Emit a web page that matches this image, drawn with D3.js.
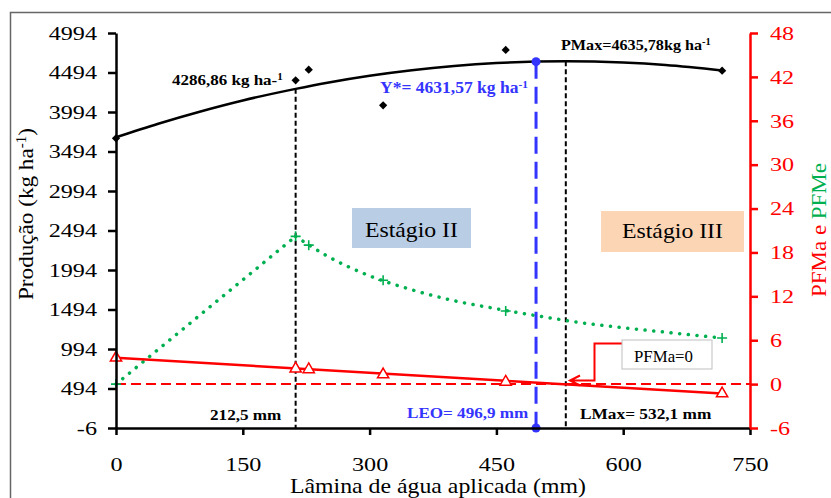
<!DOCTYPE html>
<html>
<head>
<meta charset="utf-8">
<script src="https://cdn.jsdelivr.net/npm/d3@7"></script>
<style>
  body { margin: 0; background: #fff; }
  svg text { font-family: "Liberation Serif", "Times New Roman", Times, serif; }
</style>
</head>
<body>
<div id="container"></div>
<script>
// observed points (lamina in mm)
let lamina = [0, 212.5, 228, 316, 461, 717];
let producao = [3661, 4395, 4530, 4079, 4779, 4517];
let pfmeMarks = [0, 20.2, 19.0, 14.2, 10.0, 6.3];
let pfmaMarks = [3.6, 2.1, 2.0, 1.3, 0.3, -1.3];

// fitted production curve
let curveLamina = [0, 50, 100, 150, 212.5, 250, 300, 350, 400, 450, 496.9, 532.1, 600, 650, 717];
let curveProducao = [3674, 3846, 4001, 4140, 4287, 4365, 4453, 4523, 4576, 4613, 4632, 4636, 4620, 4589, 4520];

// PFMe dotted line
let pfmeLamina = [0, 212.5, 250, 300, 350, 400, 450, 500, 550, 600, 650, 717];
let pfme = [0, 20.2, 17.5, 14.8, 12.9, 11.4, 10.3, 9.3, 8.4, 7.7, 7.1, 6.3];

// PFMa straight line
let pfmaLamina = [0, 717];
let pfma = [3.6, -1.3];

// reference levels: 212,5 mm / LEO / LMax
let refLamina = [212.5, 496.9, 532.1];
let refProducao = [4286.86, 4631.57, 4635.78];

let xTicks = [0, 150, 300, 450, 600, 750];
let yTicks = [-6, 494, 994, 1494, 1994, 2494, 2994, 3494, 3994, 4494, 4994];
let y2Ticks = [-6, 0, 6, 12, 18, 24, 30, 36, 42, 48];

let w = 831;
let h = 498;
let serif = "Liberation Serif, Times New Roman, serif";
let red = "#ff0000";
let green = "#00b050";
let blue = "#3434ff";

let viz = d3.select("#container")
  .append("svg")
    .attr("width", w)
    .attr("height", h)
    .style("display", "block")
;

// outer frame
viz.append("rect")
  .attr("x", 10.5).attr("y", 12.5)
  .attr("width", 840).attr("height", 500)
  .attr("fill", "none").attr("stroke", "#666").attr("stroke-width", 1.5);

let xScale = d3.scaleLinear().domain([0, 750]).range([116, 750]);
let yScale = d3.scaleLinear().domain([-6, 4994]).range([428, 33]);
let y2Scale = d3.scaleLinear().domain([-6, 48]).range([428, 33]);

// stretch a text horizontally so it spans x0..x1, baseline at y
function fitText(sel, x0, x1, y) {
  let bb = sel.node().getBBox();
  let k = (x1 - x0) / bb.width;
  sel.attr("transform", "translate(" + (x0 - bb.x * k) + "," + y + ") scale(" + k + ",1)");
}
// same thing for a text turned -90deg, running from yBottom up to yTop
function fitVertical(sel, yBottom, yTop, x) {
  let bb = sel.node().getBBox();
  let k = (yBottom - yTop) / bb.width;
  sel.attr("transform", "translate(" + x + "," + yBottom + ") rotate(-90) scale(" + k + ",1)");
}
function addText(txt, size, color, bold) {
  return viz.append("text")
    .attr("x", 0).attr("y", 0)
    .attr("font-family", serif)
    .attr("font-size", size)
    .attr("font-weight", bold ? "bold" : "normal")
    .attr("fill", color)
    .text(txt);
}
function sup(sel, txt) {
  sel.append("tspan").attr("font-size", "0.65em").attr("dy", "-0.5em").text(txt);
}

// stage boxes
viz.append("rect").attr("x", 352).attr("y", 208).attr("width", 119).attr("height", 40).attr("fill", "#b9cde5");
viz.append("rect").attr("x", 601).attr("y", 211).attr("width", 143).attr("height", 41).attr("fill", "#fcd5b5");
fitText(addText("Estágio II", 20, "#000"), 365, 458, 237);
fitText(addText("Estágio III", 20, "#000"), 622, 723, 238);

// vertical reference lines
viz.append("line")
  .attr("x1", xScale(refLamina[0])).attr("x2", xScale(refLamina[0]))
  .attr("y1", yScale(refProducao[0])).attr("y2", yScale(-6))
  .attr("stroke", "#000").attr("stroke-width", 2).attr("stroke-dasharray", "5,3");
viz.append("line")
  .attr("x1", xScale(refLamina[2])).attr("x2", xScale(refLamina[2]))
  .attr("y1", yScale(refProducao[2])).attr("y2", yScale(-6))
  .attr("stroke", "#000").attr("stroke-width", 2).attr("stroke-dasharray", "5,3");

// zero line of PFMa
viz.append("line")
  .attr("x1", xScale(0)).attr("x2", xScale(750))
  .attr("y1", y2Scale(0)).attr("y2", y2Scale(0))
  .attr("stroke", red).attr("stroke-width", 2).attr("stroke-dasharray", "10,5");

// PFMe dotted
let pfmeData = pfmeLamina.map(function(d, i){ return [d, pfme[i]]; });
let lineR = d3.line().x(function(d){ return xScale(d[0]); }).y(function(d){ return y2Scale(d[1]); });
viz.append("path")
  .attr("d", lineR(pfmeData.slice(0, 2)))
  .attr("fill", "none").attr("stroke", green).attr("stroke-width", 3.5)
  .attr("stroke-linecap", "round").attr("stroke-dasharray", "0.1,8.6");
viz.append("path")
  .attr("d", lineR.curve(d3.curveMonotoneX)(pfmeData.slice(1)))
  .attr("fill", "none").attr("stroke", green).attr("stroke-width", 3.5)
  .attr("stroke-linecap", "round").attr("stroke-dasharray", "0.1,8.6");
viz.selectAll(".plus").data(lamina).enter()
  .append("path")
    .attr("d", "M-5,0H5M0,-5V5")
    .attr("transform", function(d, i){ return "translate(" + xScale(d) + "," + y2Scale(pfmeMarks[i]) + ")"; })
    .attr("stroke", green).attr("stroke-width", 1.6);

// PFMa line and triangles
let pfmaData = pfmaLamina.map(function(d, i){ return [d, pfma[i]]; });
viz.append("path")
  .attr("d", d3.line().x(function(d){ return xScale(d[0]); }).y(function(d){ return y2Scale(d[1]); })(pfmaData))
  .attr("fill", "none").attr("stroke", red).attr("stroke-width", 2.5);
viz.selectAll(".tri").data(lamina).enter()
  .append("path")
    .attr("d", d3.symbol(d3.symbolTriangle, 55))
    .attr("transform", function(d, i){ return "translate(" + xScale(d) + "," + y2Scale(pfmaMarks[i]) + ")"; })
    .attr("fill", "#fff").attr("stroke", red).attr("stroke-width", 1.5);

// production curve
let curveData = curveLamina.map(function(d, i){ return [d, curveProducao[i]]; });
viz.append("path")
  .attr("d", d3.line().curve(d3.curveMonotoneX)
    .x(function(d){ return xScale(d[0]); }).y(function(d){ return yScale(d[1]); })(curveData))
  .attr("fill", "none").attr("stroke", "#000").attr("stroke-width", 2.5);
viz.selectAll(".dia").data(lamina).enter()
  .append("path")
    .attr("d", d3.symbol(d3.symbolSquare, 34))
    .attr("transform", function(d, i){ return "translate(" + xScale(d) + "," + yScale(producao[i]) + ") rotate(45)"; })
    .attr("fill", "#000");

// LEO line
viz.append("line")
  .attr("x1", xScale(refLamina[1])).attr("x2", xScale(refLamina[1]))
  .attr("y1", yScale(refProducao[1])).attr("y2", yScale(-6))
  .attr("stroke", blue).attr("stroke-width", 3).attr("stroke-dasharray", "17,8");
viz.selectAll(".leo").data([refProducao[1], -6]).enter()
  .append("circle")
    .attr("cx", xScale(refLamina[1])).attr("cy", function(d){ return yScale(d); })
    .attr("r", 4.5).attr("fill", blue);

// axes
let plain = function(d){ return String(d); };
let xAxis = d3.axisBottom(xScale).tickValues(xTicks).tickFormat(plain).tickSize(7).tickPadding(22).tickSizeOuter(0);
let xAxisGroup = viz.append("g").attr("transform", "translate(0," + yScale(-6) + ")");
xAxisGroup.call(xAxis);

let yAxis = d3.axisLeft(yScale).tickValues(yTicks).tickFormat(plain).tickSize(8).tickPadding(11).tickSizeOuter(0);
let yAxisGroup = viz.append("g").attr("transform", "translate(" + xScale(0) + ",0)");
yAxisGroup.call(yAxis);

let y2Axis = d3.axisRight(y2Scale).tickValues(y2Ticks).tickFormat(plain).tickSize(8).tickPadding(13).tickSizeOuter(0);
let y2AxisGroup = viz.append("g").attr("transform", "translate(" + xScale(750) + ",0)");
y2AxisGroup.call(y2Axis);

let tickK = 1.24;
[xAxisGroup, yAxisGroup, y2AxisGroup].forEach(function(g){
  g.attr("font-family", serif).attr("font-size", 19.5);
  g.selectAll(".domain").attr("stroke-width", 2.5);
  g.selectAll(".tick line").attr("stroke-width", 2.5);
  g.selectAll("text").attr("transform", "scale(" + tickK + ",1)");
});
yAxisGroup.selectAll("text").attr("x", -19 / tickK);
y2AxisGroup.selectAll("text").attr("x", 20 / tickK);
y2AxisGroup.selectAll(".domain, .tick line").attr("stroke", red);
y2AxisGroup.selectAll("text").attr("fill", red);

// axis titles
fitText(addText("Lâmina de água aplicada (mm)", 22, "#000"), 290, 586, 493);
let yTitle = addText("Produção (kg ha", 21, "#000");
sup(yTitle, "-1");
yTitle.append("tspan").attr("dy", "0.325em").text(")");
fitVertical(yTitle, 300, 128, 33);
let y2Title = viz.append("text")
  .attr("font-family", serif).attr("font-size", 21);
y2Title.append("tspan").attr("fill", red).text("PFMa e ");
y2Title.append("tspan").attr("fill", green).text("PFMe");
fitVertical(y2Title, 297, 163, 826);

// annotations
let a1 = addText("4286,86 kg ha-", 15, "#000", true);
sup(a1, "1");
fitText(a1, 172, 283, 85);
let a2 = addText("Y*= 4631,57 kg ha", 16, blue, true);
sup(a2, "-1");
fitText(a2, 380, 528, 93);
let a3 = addText("PMax=4635,78kg ha", 15, "#000", true);
sup(a3, "-1");
fitText(a3, 561, 711, 50);
fitText(addText("212,5 mm", 15, "#000", true), 210, 282, 420);
fitText(addText("LEO= 496,9 mm", 15, blue, true), 407, 529, 418);
fitText(addText("LMax= 532,1 mm", 15, "#000", true), 580, 712, 419);

// PFMa=0 callout
viz.append("path")
  .attr("d", "M622,343.5H594.5V380.5H570M580,375.5L570,380.5L580,385.5")
  .attr("fill", "none").attr("stroke", red).attr("stroke-width", 2);
viz.append("rect")
  .attr("x", 622).attr("y", 340).attr("width", 90).attr("height", 29)
  .attr("fill", "#fff").attr("stroke", "#bfbfbf").attr("stroke-width", 1);
fitText(addText("PFMa=0", 16, "#000"), 634, 693, 362);
</script>
</body>
</html>
